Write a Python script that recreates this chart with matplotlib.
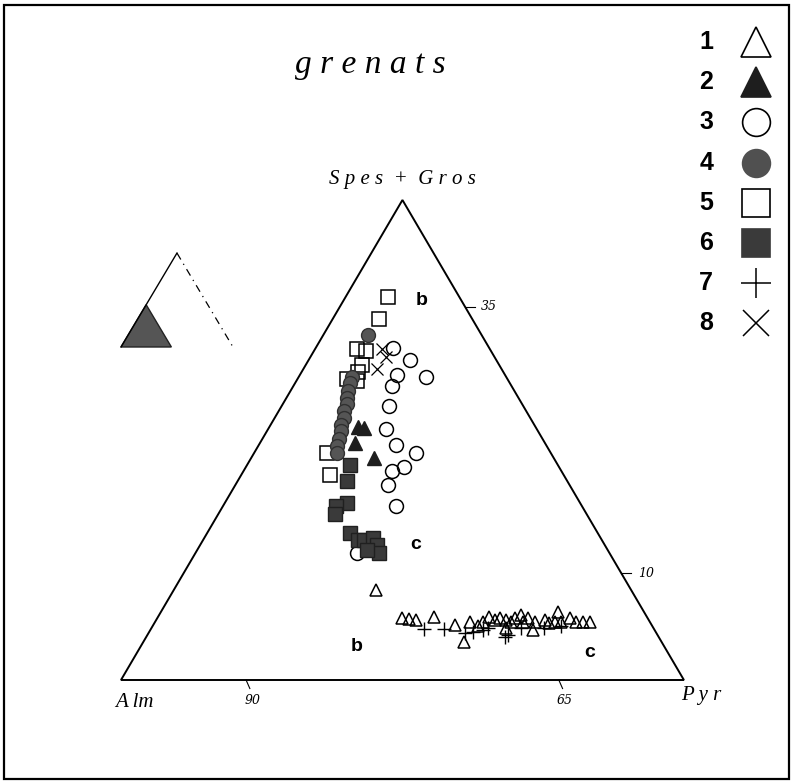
import numpy as np
import matplotlib
matplotlib.use("Agg")
import matplotlib.pyplot as plt
from matplotlib.patches import Polygon, Rectangle

# ternary data: (Pyr %, Spes+Gros %), Alm = 100 - Pyr - SpGr
# groupe 1 : triangles vides
g1_pyr = [16.2, 19.6, 20.2, 20.8, 22.1, 24.1, 25.2, 25.6, 26.2, 26.5, 27.1, 27.4, 28.0, 28.3,
          28.6, 28.9, 29.4, 29.6, 30.4, 30.6, 31.1, 31.6, 31.7, 32.0, 32.5, 33.0, 33.7, 34.2,
          34.8, 28.5, 26.0]
g1_sg = [8.4, 5.8, 5.7, 5.6, 5.9, 5.2, 5.4, 3.6, 5.4, 5.9, 5.6, 5.8, 5.6, 4.9,
         5.8, 6.1, 5.4, 5.8, 5.4, 4.7, 5.6, 5.3, 6.4, 5.4, 5.4, 5.8, 5.4, 5.4,
         5.4, 5.4, 5.1]
# groupe 2 : triangles pleins
g2_pyr = [7.1, 7.6, 7.6, 9.8]
g2_sg = [23.7, 23.6, 22.2, 20.8]
# groupe 3 : cercles vides
g3_pyr = [6.2, 8.1, 7.8, 10.2, 7.9, 8.6, 9.4, 11.0, 12.9, 12.6, 11.9, 12.2, 13.8, 12.9]
g3_sg = [31.1, 30.0, 28.6, 28.4, 27.6, 25.7, 23.5, 22.0, 21.3, 20.0, 19.6, 18.3, 16.3, 11.9]
# groupe 4 : cercles pleins
g4_pyr = [3.6, 4.3, 4.4, 4.6, 4.9, 5.1, 5.2, 5.5, 5.6, 5.9, 6.1, 6.3, 6.6]
g4_sg = [32.3, 28.4, 27.8, 27.1, 26.4, 25.9, 25.2, 24.6, 23.9, 23.3, 22.6, 21.9, 21.3]
# groupe 5 : carres vides
g5_pyr = [3.4, 3.7, 3.4, 4.2, 4.5, 4.5, 4.0, 4.9, 5.8, 7.1]
g5_sg = [35.9, 33.8, 31.0, 30.8, 29.5, 28.9, 28.2, 28.0, 21.3, 19.2]
# groupe 6 : carres pleins
g6_pyr = [8.2, 8.7, 9.8, 9.0, 9.3, 11.4, 12.4, 12.9, 13.5, 14.1, 14.7, 13.6]
g6_sg = [20.2, 18.7, 16.6, 16.3, 15.6, 13.8, 13.1, 13.1, 13.3, 12.7, 11.9, 12.2]
# groupe 7 : croix +
g7_pyr = [21.8, 23.4, 25.3, 25.9, 26.6, 26.9, 28.7, 28.8, 29.5, 31.4, 32.6]
g7_sg = [4.8, 4.8, 4.4, 4.5, 4.7, 4.9, 4.0, 4.2, 4.9, 4.9, 5.1]
# groupe 8 : croix x
g8_pyr = [5.4, 6.0, 5.9]
g8_sg = [31.0, 30.3, 29.2]

legend_labels = ["1", "2", "3", "4", "5", "6", "7", "8"]

# the drawn triangle is the Alm corner of the full diagram (Alm >= 55)
SIDE = 45.0


def tern(pyr, sg):
    pyr = np.asarray(pyr, dtype=float)
    sg = np.asarray(sg, dtype=float)
    return pyr + sg / 2.0, sg


fig = plt.figure(figsize=(7.93, 7.83), dpi=100)
ax = fig.add_axes([0, 0, 1, 1])
ax.set_xlim(-9.672, 53.72)
ax.set_ylim(-9.656, 63.75)
ax.axis("off")

# outer frame
fig.patches.append(Rectangle((0.005, 0.005), 0.99, 0.989, transform=fig.transFigure,
                             fill=False, lw=1.6, ec="black"))

# main triangle
corners = np.array([tern(0, 0), tern(SIDE, 0), tern(0, SIDE)])
ax.add_patch(Polygon(corners, closed=True, fill=False, lw=1.4, ec="black"))

# ticks
for alm in [90, 65]:
    x, y = tern(100 - alm, 0)
    ax.plot([x, x + 0.3], [y, y - 0.8], color="black", lw=0.8)
    ax.text(x + 0.5, y - 1.3, str(alm), ha="center", va="top", fontsize=9,
            fontstyle="italic", family="DejaVu Serif")
for sg, lab in [(35, "35"), (10, "10")]:
    x, y = tern(SIDE - sg, sg)
    ax.plot([x, x + 0.8], [y, y], color="black", lw=0.8)
    ax.text(x + 1.3, y, lab, ha="left", va="center", fontsize=9,
            fontstyle="italic", family="DejaVu Serif")

# vertex labels
lab_kw = dict(fontsize=15, fontstyle="italic", family="Liberation Serif")
ax.text(1.1, -1.2, "A lm", ha="center", va="top", **lab_kw)
ax.text(46.4, -0.6, "P y r", ha="center", va="top", **lab_kw)
ax.text(22.5, 46.0, "S p e s  +  G r o s", ha="center", va="bottom", **lab_kw)

# title
fig.text(0.467, 0.917, "g r e n a t s", ha="center", va="center", fontsize=24,
         fontstyle="italic", family="Liberation Serif")

# data
open_kw = dict(ls="none", mfc="none", mec="black", mew=1.1)
ax.plot(*tern(g1_pyr, g1_sg), marker="^", ms=9, **open_kw)
ax.plot(*tern(g7_pyr, g7_sg), marker="+", ls="none", color="black", ms=10, mew=1.0)
ax.plot(*tern(g3_pyr, g3_sg), marker="o", ms=10, **open_kw)
ax.plot(*tern(g5_pyr, g5_sg), marker="s", ms=10, **open_kw)
ax.plot(*tern(g8_pyr, g8_sg), marker="x", ls="none", color="black", ms=8, mew=0.9)
ax.plot(*tern(g4_pyr, g4_sg), marker="o", ls="none", mfc="#555555", mec="#303030", ms=10)
ax.plot(*tern(g6_pyr, g6_sg), marker="s", ls="none", mfc="#3a3a3a", mec="#202020", ms=10)
ax.plot(*tern(g2_pyr, g2_sg), marker="^", ls="none", mfc="#1e1e1e", mec="#1e1e1e", ms=10)

# b / c labels
bc_kw = dict(fontsize=14, fontweight="bold", family="Liberation Sans", ha="center", va="center")
ax.text(*tern(6.2, 35.6), "b", **bc_kw)
ax.text(*tern(17.2, 12.7), "c", **bc_kw)
ax.text(*tern(17.3, 3.1), "b", **bc_kw)
ax.text(*tern(36.2, 2.6), "c", **bc_kw)

# inset: full triangle with the shaded enlarged corner
ix0, iy0, isz = 0.0, 31.22, 8.95
full = np.array([[ix0, iy0], [ix0 + isz / 2, iy0 + isz * 0.984], [ix0 + isz, iy0]])
ax.plot(full[:2, 0], full[:2, 1], color="black", lw=1.0)
ax.plot(full[1:, 0], full[1:, 1], color="black", lw=0.9, ls=(0, (6, 4, 1, 4)))
f = SIDE / 100.0
shade = np.array([[ix0, iy0], [ix0 + f * isz / 2, iy0 + f * isz * 0.984], [ix0 + f * isz, iy0]])
ax.add_patch(Polygon(shade, closed=True, fc="#555555", ec="#222222", lw=1.0))

# legend
markers = [("^", "none"), ("^", "#1e1e1e"), ("o", "none"), ("o", "#505050"),
           ("s", "none"), ("s", "#3a3a3a"), ("+", None), ("x", None)]
for i, lab in enumerate(legend_labels):
    ypx = 42 + 40.2 * i
    yf = 1 - ypx / 783
    fig.text(713 / 793, yf, lab, ha="right", va="center", fontsize=18,
             fontweight="bold", family="Liberation Sans")
    m, fc = markers[i]
    if fc is None:
        ax.plot([756 / 793], [yf], marker=m, color="black", ms=22 if m == "+" else 19,
                mew=1.1, transform=fig.transFigure, clip_on=False)
    else:
        ax.plot([756 / 793], [yf], marker=m, mfc=fc, mec="black" if fc == "none" else fc,
                ms=21 if m == "^" else 20, mew=1.2, transform=fig.transFigure, clip_on=False)

fig.savefig("out.png", dpi=100)
